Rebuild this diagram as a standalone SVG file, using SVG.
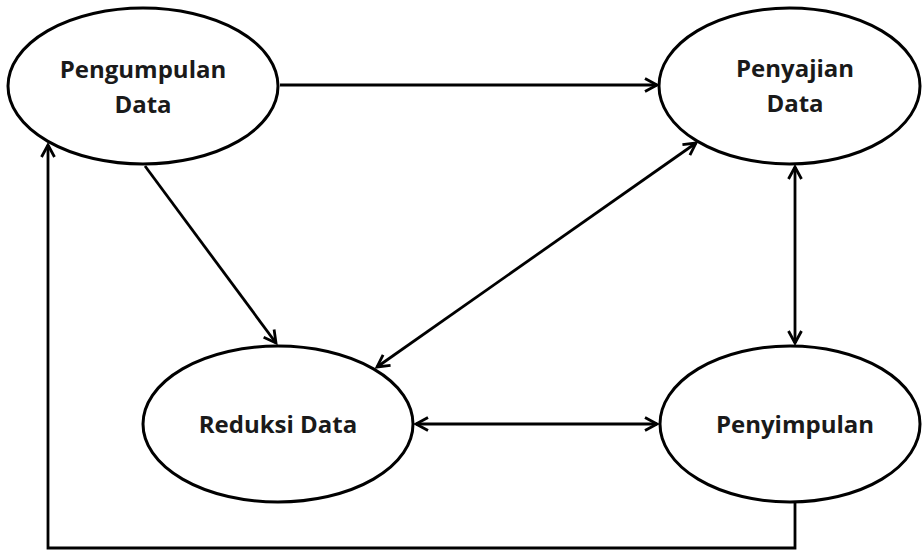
<svg xmlns="http://www.w3.org/2000/svg" width="923" height="551" viewBox="0 0 923 551">
<style>
.node ellipse{fill:#fff;stroke:#000;stroke-width:3}
.node text{font-family:"Open Sans","Liberation Sans",sans-serif;font-weight:bold;font-size:24px;fill:#1a1a1a;text-anchor:middle}
.edge{fill:none;stroke:#000;stroke-width:2.8}
</style>
<defs>
<marker id="arr" markerUnits="userSpaceOnUse" markerWidth="20" markerHeight="20" viewBox="-16 -10 20 20" refX="0" refY="0" orient="auto-start-reverse">
<path d="M-12,-6.5 L0,0 L-12,6.5" fill="none" stroke="#000" stroke-width="2.8" stroke-linejoin="miter"/>
</marker>
</defs>
<rect width="923" height="551" fill="#fff"/>
<g id="connectors">
<line class="edge" x1="280" y1="85" x2="657" y2="85" marker-end="url(#arr)"/>
<line class="edge" x1="145" y1="166" x2="276" y2="343" marker-end="url(#arr)"/>
<line class="edge" x1="377" y1="367" x2="696" y2="143" marker-start="url(#arr)" marker-end="url(#arr)"/>
<line class="edge" x1="795" y1="167" x2="795" y2="343" marker-start="url(#arr)" marker-end="url(#arr)"/>
<line class="edge" x1="416" y1="424" x2="657" y2="424" marker-start="url(#arr)" marker-end="url(#arr)"/>
<polyline class="edge" points="795,502 795,548 48,548 48,145" marker-end="url(#arr)"/>
</g>
<g id="pengumpulan" class="node">
<ellipse cx="143" cy="86" rx="135" ry="78"/>
<text x="143" y="78">Pengumpulan</text>
<text x="143" y="113">Data</text>
</g>
<g id="penyajian" class="node">
<ellipse cx="789.5" cy="86" rx="130.5" ry="78"/>
<text x="795" y="77">Penyajian</text>
<text x="795" y="112">Data</text>
</g>
<g id="reduksi" class="node">
<ellipse cx="278" cy="424" rx="135" ry="78"/>
<text x="278" y="433">Reduksi Data</text>
</g>
<g id="penyimpulan" class="node">
<ellipse cx="790" cy="424" rx="130" ry="78"/>
<text x="795" y="433">Penyimpulan</text>
</g>
</svg>
